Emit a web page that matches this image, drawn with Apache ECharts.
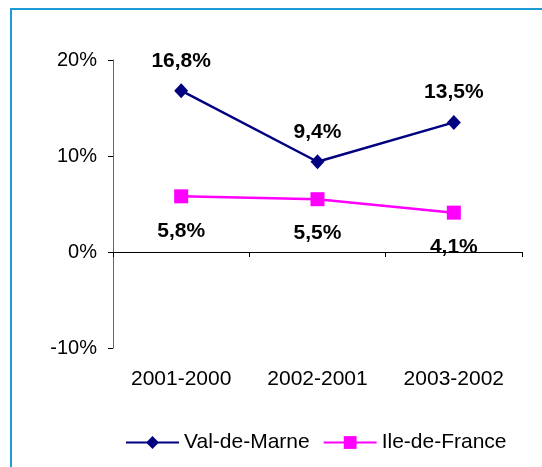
<!DOCTYPE html>
<html>
<head>
<meta charset="utf-8">
<script src="https://cdn.jsdelivr.net/npm/echarts@6/dist/echarts.min.js"></script>
<style>
html, body { margin: 0; padding: 0; background: #fff; }
#chart { width: 542px; height: 467px; }
</style>
</head>
<body>
<div id="chart"></div>
<script type="text/javascript">
var categories = ['2001-2000', '2002-2001', '2003-2002'];
var valDeMarne = [16.8, 9.4, 13.5];
var ileDeFrance = [5.8, 5.5, 4.1];
var yTicks = { min: -10, max: 20, interval: 10 };

var font = '"Liberation Sans", Arial, sans-serif';
function fmt(v) {
	return v.toFixed(1).replace('.', ',') + '%';
}

var myChart = echarts.init(document.getElementById('chart'));
var option = {
	backgroundColor: '#fff',
	animation: false,
	textStyle: { fontFamily: font },
	graphic: [{
		type: 'rect',
		shape: { x: 11, y: 9, width: 700, height: 700 },
		style: { fill: 'none', stroke: '#1C9BD6', lineWidth: 2 },
		silent: true
	}],
	grid: { left: 113, top: 60, right: 20, bottom: 119 },
	legend: {
		left: 120, top: 427,
		itemWidth: 53, itemHeight: 16, itemGap: 13,
		textStyle: { fontFamily: font, fontSize: 21, color: '#000' },
		data: ['Val-de-Marne', 'Ile-de-France']
	},
	xAxis: [{
		type: 'category',
		data: categories,
		position: 'bottom',
		axisLine: { show: false, onZero: false },
		axisTick: { show: false },
		axisLabel: { fontFamily: font, fontSize: 21, color: '#000', margin: 21 }
	}, {
		type: 'category',
		data: categories,
		position: 'bottom',
		axisLine: { show: true, onZero: true, lineStyle: { color: '#000', width: 1 } },
		axisTick: { show: true, length: 5, lineStyle: { color: '#000' } },
		axisLabel: { show: false }
	}],
	yAxis: {
		type: 'value',
		min: yTicks.min, max: yTicks.max, interval: yTicks.interval,
		axisLine: { show: true, lineStyle: { color: '#666', width: 1 } },
		axisTick: { show: true, length: 5, lineStyle: { color: '#000' } },
		splitLine: { show: false },
		axisLabel: {
			fontFamily: font, fontSize: 20, color: '#000', margin: 16,
			formatter: function (v) { return v + '%'; }
		}
	},
	series: [{
		name: 'Val-de-Marne',
		type: 'line',
		xAxisIndex: 0,
		data: valDeMarne,
		symbol: 'diamond',
		symbolSize: [14, 15],
		itemStyle: { color: '#000080' },
		lineStyle: { color: '#000080', width: 2.5 },
		label: {
			show: true, position: 'top', distance: 12,
			fontFamily: font, fontSize: 21, fontWeight: 'bold', color: '#000',
			formatter: function (p) { return fmt(p.value); }
		}
	}, {
		name: 'Ile-de-France',
		type: 'line',
		xAxisIndex: 0,
		data: ileDeFrance,
		symbol: 'rect',
		symbolSize: 14,
		itemStyle: { color: '#FF00FF' },
		lineStyle: { color: '#FF00FF', width: 2.5 },
		label: {
			show: true, position: 'bottom', distance: 17,
			fontFamily: font, fontSize: 21, fontWeight: 'bold', color: '#000',
			formatter: function (p) { return fmt(p.value); }
		}
	}]
};
myChart.setOption(option);
</script>
</body>
</html>
